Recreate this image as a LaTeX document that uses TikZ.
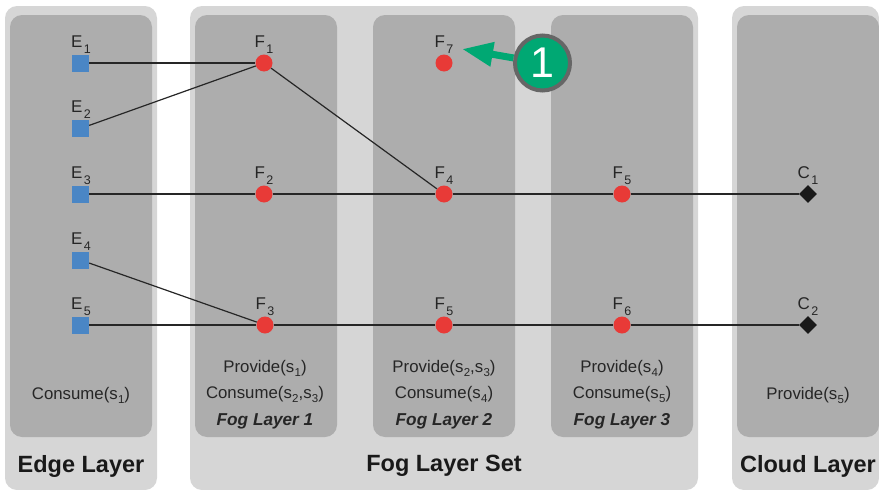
\documentclass[tikz,border=0pt]{standalone}
\usepackage{fontspec}
\setmainfont{Liberation Sans}
\usetikzlibrary{arrows.meta, shapes.geometric}
\definecolor{edgeblue}{HTML}{4A86C5}
\definecolor{fogred}{HTML}{E83A37}
\definecolor{markgreen}{HTML}{00A873}
\tikzset{
  outerpanel/.style={fill=black!16, rounded corners=12pt},
  innerpanel/.style={fill=black!32, rounded corners=12pt},
  edgenode/.style={fill=edgeblue, minimum size=17pt, inner sep=0pt},
  fognode/.style={circle, fill=fogred, minimum size=17pt, inner sep=0pt},
  cloudnode/.style={diamond, fill=black!90, minimum size=18pt, inner sep=0pt},
  tag/.style={font=\fontsize{17}{17}\selectfont, text=black!85, inner sep=0pt, anchor=base},
  info/.style={font=\fontsize{16.8}{26}\selectfont, text=black!85, align=center, inner sep=0pt},
  layername/.style={font=\fontsize{17.2}{17.2}\selectfont\bfseries\itshape, text=black!85, inner sep=0pt},
  title/.style={font=\fontsize{23.5}{23.5}\selectfont\bfseries, text=black!90, inner sep=0pt},
  link/.style={draw=black!85, line width=1.2pt}
}
\newcommand{\tagsub}[1]{\kern1.5pt\raisebox{-6pt}{\fontsize{12.5}{12.5}\selectfont #1}}
\newcommand{\infosub}[1]{\kern0.3pt\raisebox{-4pt}{\fontsize{11.5}{11.5}\selectfont #1}}
\begin{document}
\begin{tikzpicture}[x=1pt, y=-1pt]
  \useasboundingbox (0,0) rectangle (879,490);
  % panels
  \fill[outerpanel] (5,6) rectangle (157,490);
  \fill[outerpanel] (190,6) rectangle (698,490);
  \fill[outerpanel] (732,6) rectangle (879,490);
  \fill[innerpanel] (10,15) rectangle (152,437);
  \fill[innerpanel] (195,15) rectangle (337,437);
  \fill[innerpanel] (373,15) rectangle (515,437);
  \fill[innerpanel] (551,15) rectangle (693,437);
  \fill[innerpanel] (737,15) rectangle (879,437);
  % nodes
  \node[edgenode] (e1) at (80.5,63) {};
  \node[edgenode] (e2) at (80.5,128.5) {};
  \node[edgenode] (e3) at (80.5,194) {};
  \node[edgenode] (e4) at (80.5,260) {};
  \node[edgenode] (e5) at (80.5,325) {};
  \node[fognode] (f1) at (264,63) {};
  \node[fognode] (f2) at (264,194) {};
  \node[fognode] (f3) at (265,325) {};
  \node[fognode] (f7) at (444,63) {};
  \node[fognode] (f4) at (444,194) {};
  \node[fognode] (f5a) at (444,325) {};
  \node[fognode] (f5b) at (622,194) {};
  \node[fognode] (f6) at (622,325) {};
  \node[cloudnode] (c1) at (808,194) {};
  \node[cloudnode] (c2) at (808,325) {};
  % labels
  \node[tag] (le1) at (81,47) {E\tagsub{1}};
  \node[tag] (le2) at (81,112) {E\tagsub{2}};
  \node[tag] (le3) at (81,178) {E\tagsub{3}};
  \node[tag] (le4) at (81,244) {E\tagsub{4}};
  \node[tag] (le5) at (81,309) {E\tagsub{5}};
  \node[tag] (lf1) at (264,47) {F\tagsub{1}};
  \node[tag] (lf2) at (264,178) {F\tagsub{2}};
  \node[tag] (lf3) at (265,309) {F\tagsub{3}};
  \node[tag] (lf7) at (444,47) {F\tagsub{7}};
  \node[tag] (lf4) at (444,178) {F\tagsub{4}};
  \node[tag] (lf5a) at (444,309) {F\tagsub{5}};
  \node[tag] (lf5b) at (622,178) {F\tagsub{5}};
  \node[tag] (lf6) at (622,309) {F\tagsub{6}};
  \node[tag] (lc1) at (808,178) {C\tagsub{1}};
  \node[tag] (lc2) at (808,309) {C\tagsub{2}};
  % connectors
  \draw[link] (e1) -- (f1);
  \draw[link] (e2) -- (f1);
  \draw[link] (f1) -- (f4);
  \draw[link] (e3) -- (f2);
  \draw[link] (f2) -- (f4);
  \draw[link] (f4) -- (f5b);
  \draw[link] (f5b) -- (c1);
  \draw[link] (e4) -- (f3);
  \draw[link] (e5) -- (f3);
  \draw[link] (f3) -- (f5a);
  \draw[link] (f5a) -- (f6);
  \draw[link] (f6) -- (c2);
  % panel texts
  \node[info] (t1) at (81,395) {Consume(s\infosub{1})};
  \node[info] (t2) at (265,381) {Provide(s\infosub{1})\\Consume(s\infosub{2},s\infosub{3})};
  \node[info] (t3) at (444,381) {Provide(s\infosub{2},s\infosub{3})\\Consume(s\infosub{4})};
  \node[info] (t4) at (622,381) {Provide(s\infosub{4})\\Consume(s\infosub{5})};
  \node[info] (t5) at (808,395) {Provide(s\infosub{5})};
  \node[layername] (n1) at (265,421) {Fog Layer 1};
  \node[layername] (n2) at (444,421) {Fog Layer 2};
  \node[layername] (n3) at (622,421) {Fog Layer 3};
  \node[title] (s1) at (81,466) {Edge Layer};
  \node[title] (s2) at (444,466) {Fog Layer Set};
  \node[title] (s3) at (808,466) {Cloud Layer};
  % marker
  \node[circle, fill=markgreen, draw=black!60, line width=4pt, minimum size=55pt, inner sep=0pt, text=white, font=\fontsize{43}{43}\selectfont] (mark) at (542.5,63) {1};
  \coordinate (marktip) at (462,49);
  \draw[markgreen, line width=7pt, -{Triangle[length=31pt, width=23pt]}] (mark) -- (marktip);
\end{tikzpicture}
\end{document}
